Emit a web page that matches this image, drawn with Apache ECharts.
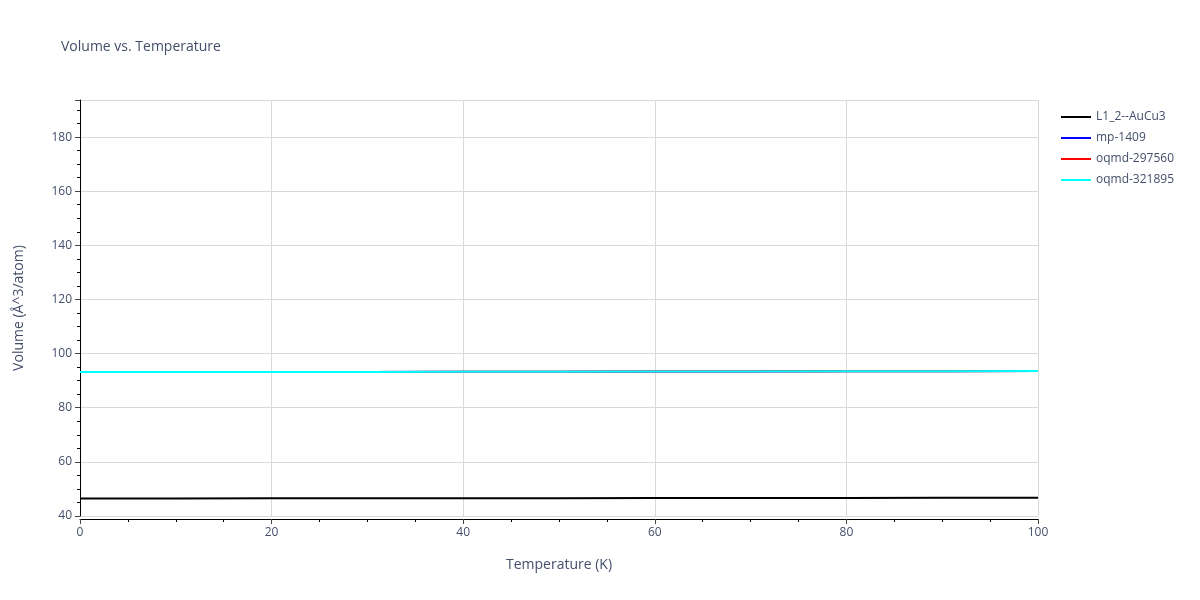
<!DOCTYPE html><html><head><meta charset="utf-8"><script src="https://cdn.jsdelivr.net/npm/echarts@6/dist/echarts.min.js"></script></head><body style="margin:0"><div id="c" style="width:1200px;height:600px"></div><script>
const temps=[0,10,20,30,40,50,60,70,80,90,100];
const auCu3=[46.5,46.5,46.52,46.54,46.56,46.58,46.61,46.64,46.68,46.72,46.76];
const mp1409=[93.2,93.2,93.22,93.25,93.28,93.31,93.35,93.4,93.45,93.5,93.56];
const oqmd297560=[93.2,93.2,93.22,93.25,93.28,93.31,93.35,93.4,93.45,93.5,93.56];
const oqmd321895=[93.2,93.2,93.22,93.25,93.28,93.31,93.35,93.4,93.45,93.5,93.56];
const names=['L1_2--AuCu3','mp-1409','oqmd-297560','oqmd-321895'];
const colors=['#000000','#0000ff','#ff0000','#00ffff'];
const vals=[auCu3,mp1409,oqmd297560,oqmd321895];
const txt='#444e6a',f='"Open Sans", sans-serif';
const ch=echarts.init(document.getElementById('c'));
ch.setOption({animation:false,textStyle:{fontFamily:f},
title:{text:'Volume vs. Temperature',left:56,top:35,textStyle:{fontSize:14,fontWeight:'normal',color:txt,fontFamily:f}},
legend:{orient:'vertical',left:1056,top:106,itemGap:9,itemWidth:30,itemHeight:2,icon:'rect',textStyle:{fontSize:12,color:txt},data:names},
grid:{left:80,right:162,top:100,bottom:84},
xAxis:{type:'value',min:0,max:100,interval:20,offset:3,name:'Temperature (K)',nameLocation:'middle',nameGap:39,nameTextStyle:{fontSize:14,color:txt},
axisLine:{onZero:false,lineStyle:{color:'#000'}},axisTick:{show:true,length:5,lineStyle:{color:'#444'}},minorTick:{show:true,splitNumber:4,length:3},
axisLabel:{color:txt,fontSize:12},splitLine:{lineStyle:{color:'#d9d9d9'}}},
yAxis:{type:'value',min:40,max:193.7,interval:20,name:'Volume (Å^3/atom)',nameLocation:'middle',nameGap:54,nameTextStyle:{fontSize:14,color:txt},
axisLine:{show:true,lineStyle:{color:'#000'}},axisTick:{show:true,length:5,lineStyle:{color:'#444'}},minorTick:{show:true,splitNumber:4,length:3},
axisLabel:{color:txt,fontSize:12,showMaxLabel:false},splitLine:{lineStyle:{color:'#d9d9d9'}}},
series:names.map((n,i)=>({name:n,type:'line',showSymbol:false,data:temps.map((t,j)=>[t,vals[i][j]]),lineStyle:{color:colors[i],width:2},itemStyle:{color:colors[i]}}))
});
</script></body></html>
